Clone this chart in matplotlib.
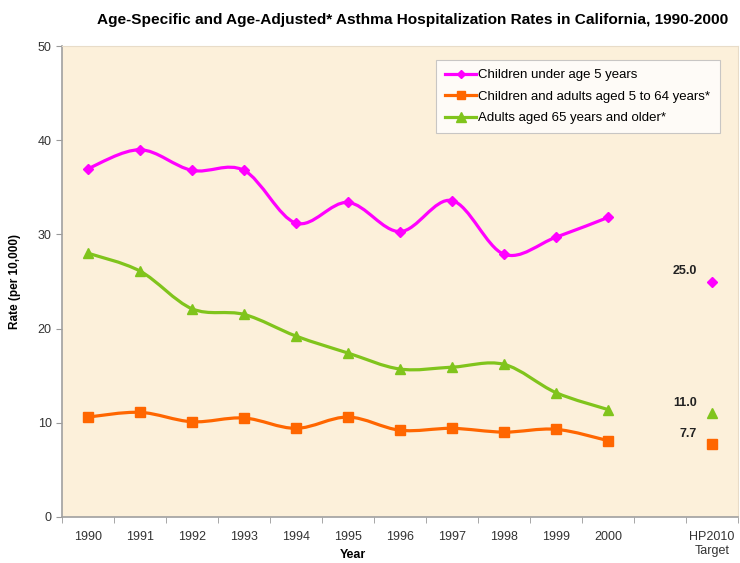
import numpy as np
import matplotlib
matplotlib.use('Agg')
from matplotlib import pyplot as plt
from matplotlib.path import Path
from matplotlib.patches import PathPatch

plt.rcParams['font.family'] = ['Liberation Sans', 'DejaVu Sans']

years = ['1990', '1991', '1992', '1993', '1994', '1995', '1996', '1997', '1998', '1999', '2000']
target_label = 'HP2010\nTarget'

under5 = [37.0, 39.0, 36.8, 36.8, 31.2, 33.4, 30.3, 33.6, 27.9, 29.7, 31.8]
age5_64 = [10.6, 11.1, 10.1, 10.5, 9.4, 10.6, 9.2, 9.4, 9.0, 9.3, 8.1]
age65 = [28.0, 26.1, 22.1, 21.5, 19.2, 17.4, 15.7, 15.9, 16.2, 13.2, 11.4]

targets = [25.0, 7.7, 11.0]
names = ['Children under age 5 years',
         'Children and adults aged 5 to 64 years*',
         'Adults aged 65 years and older*']
colors = ['#FF00FF', '#FF6600', '#80C41C']
markers = ['D', 's', '^']
msizes = [5.5, 7, 7.5]


def smooth_path(x, y, t=1.0 / 6):
    # excel-like smoothed line through the points (bezier segments)
    x = np.asarray(x, float)
    y = np.asarray(y, float)
    verts = [(x[0], y[0])]
    codes = [Path.MOVETO]
    n = len(x)
    for i in range(n - 1):
        p0 = np.array([x[max(i - 1, 0)], y[max(i - 1, 0)]])
        p1 = np.array([x[i], y[i]])
        p2 = np.array([x[i + 1], y[i + 1]])
        p3 = np.array([x[min(i + 2, n - 1)], y[min(i + 2, n - 1)]])
        c1 = p1 + (p2 - p0) * t
        c2 = p2 - (p3 - p1) * t
        verts += [tuple(c1), tuple(c2), tuple(p2)]
        codes += [Path.CURVE4] * 3
    return Path(verts, codes)


fig = plt.figure(figsize=(7.4, 5.63), dpi=100)
ax = fig.add_axes([0.084, 0.082, 0.913, 0.836])
ax.set_facecolor('#FCF0DA')

xs = np.arange(len(years))
series = [under5, age5_64, age65]
for vals, name, c, m, ms, tgt in zip(series, names, colors, markers, msizes, targets):
    ax.add_patch(PathPatch(smooth_path(xs, vals), fill=False, edgecolor=c, lw=2.3, zorder=3))
    ax.plot(xs, vals, linestyle='none', color=c, marker=m, markersize=ms, zorder=5)
    ax.plot([12], [tgt], linestyle='none', color=c, marker=m, markersize=ms, zorder=5)
    ax.annotate('%.1f' % tgt, (12, tgt), xytext=(-11, 3), textcoords='offset points',
                ha='right', va='bottom', fontsize=9, fontweight='bold', color='#222222')

handles = [plt.Line2D([], [], color=c, lw=2.3, marker=m, markersize=ms - 1)
           for c, m, ms in zip(colors, markers, msizes)]
leg = ax.legend(handles, names, loc='upper right', bbox_to_anchor=(0.983, 0.985),
                fontsize=9.5, frameon=True, fancybox=False, handlelength=2.4,
                handletextpad=0.15, borderpad=0.7, labelspacing=0.7)
leg.get_frame().set_edgecolor('#BBBBBB')
leg.get_frame().set_linewidth(0.8)

ax.set_xlim(-0.5, 12.5)
ax.set_ylim(0, 50)
ax.set_xticks(list(xs) + [12])
ax.set_xticklabels(years + [target_label])
ax.set_xticks(np.arange(-0.5, 13, 1), minor=True)
ax.tick_params(axis='x', which='major', length=0, pad=10, labelsize=9, colors='#333333')
ax.tick_params(axis='x', which='minor', length=4, color='#999999')
ax.set_yticks(np.arange(0, 51, 10))
ax.tick_params(axis='y', length=4, color='#999999', labelsize=9, colors='#333333')

for s in ['top', 'right']:
    ax.spines[s].set_color('#E8DCC8')
for s in ['left', 'bottom']:
    ax.spines[s].set_color('#A0A0A0')
    ax.spines[s].set_linewidth(1.2)

ax.set_ylabel('Rate (per 10,000)', fontsize=8.5, fontweight='bold', labelpad=12)
fig.text(0.477, 1 - 555 / 563, 'Year', ha='center', va='center', fontsize=9, fontweight='bold')

fig.text(0.557, 0.965, 'Age-Specific and Age-Adjusted* Asthma Hospitalization Rates in California, 1990-2000',
         ha='center', va='center', fontsize=11.1, fontweight='bold')

fig.savefig('out.png', dpi=100)
